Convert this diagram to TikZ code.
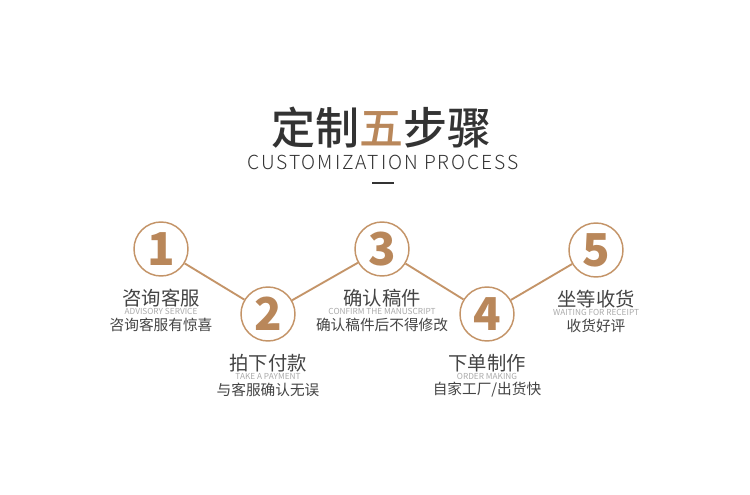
\documentclass[tikz,border=0pt]{standalone}
\usepackage{fontspec}
\usetikzlibrary{positioning}
\newfontfamily\cjk{Noto Sans CJK SC}
\newfontfamily\cjkmed{Noto Sans CJK SC Medium}
\newfontfamily\cjklight{Noto Sans CJK SC Light}
\definecolor{brownNum}{RGB}{185,135,90}
\definecolor{brownLine}{RGB}{196,148,104}
\definecolor{darkText}{RGB}{51,51,51}
\definecolor{labelText}{RGB}{68,68,68}
\definecolor{grayText}{RGB}{170,170,170}
\tikzset{
  stepCircle/.style={
    circle,
    draw=brownLine,
    line width=1.1pt,
    minimum size=40.5pt,
    inner sep=0pt,
    fill=white,
    text=brownNum,
    font=\cjk\bfseries\fontsize{34}{34}\selectfont
  }
}
\tikzset{
  stepTitle/.style={
    inner sep=0pt,
    text=labelText,
    font=\cjk\fontsize{14.5}{15}\selectfont
  },
  stepEn/.style={
    inner sep=0pt,
    text=grayText,
    font=\cjk\fontsize{6.2}{7}\selectfont
  },
  stepDesc/.style={
    inner sep=0pt,
    text=labelText,
    font=\cjk\fontsize{11}{12}\selectfont
  },
  link/.style={
    draw=brownLine,
    line width=1.4pt
  }
}
\newcommand{\stepItem}[6]{%
  \node[stepCircle] (s#1) at (#2,#3) {#1};
  \node[stepTitle] (t#1) at (#2,#3+49) {#4};
  \node[stepEn] (e#1) at (#2,#3+62) {#5};
  \node[stepDesc] (d#1) at (#2,#3+76) {#6};}

\begin{document}
\begin{tikzpicture}[x=0.75pt, y=-0.75pt]
    \useasboundingbox[fill=white] (0,0) rectangle (750,495);

    % heading
    \node[text=darkText, font=\cjkmed\fontsize{33}{33}\selectfont]
      (head) at (381,128) {定制\textcolor{brownNum}{五}步骤};
    \node[text=darkText, font=\cjklight\fontsize{14.5}{15}\selectfont\addfontfeatures{LetterSpace=10}]
      (sub) at (383,162) {CUSTOMIZATION PROCESS};
    \draw[darkText, line width=2.2pt] (372,183) -- (394,183);

    \stepItem{1}{161}{249}{咨询客服}{ADVISORY SERVICE}{咨询客服有惊喜}
    \stepItem{2}{268}{314}{拍下付款}{TAKE A PAYMENT}{与客服确认无误}
    \stepItem{3}{382}{249}{确认稿件}{CONFIRM THE MANUSCRIPT}{确认稿件后不得修改}
    \stepItem{4}{487}{314}{下单制作}{ORDER MAKING}{自家工厂/出货快}
    \stepItem{5}{596}{250}{坐等收货}{WAITING FOR RECEIPT}{收货好评}

    \foreach \a/\b in {1/2, 2/3, 3/4, 4/5}
      \draw[link] (s\a) -- (s\b);
\end{tikzpicture}
\end{document}
